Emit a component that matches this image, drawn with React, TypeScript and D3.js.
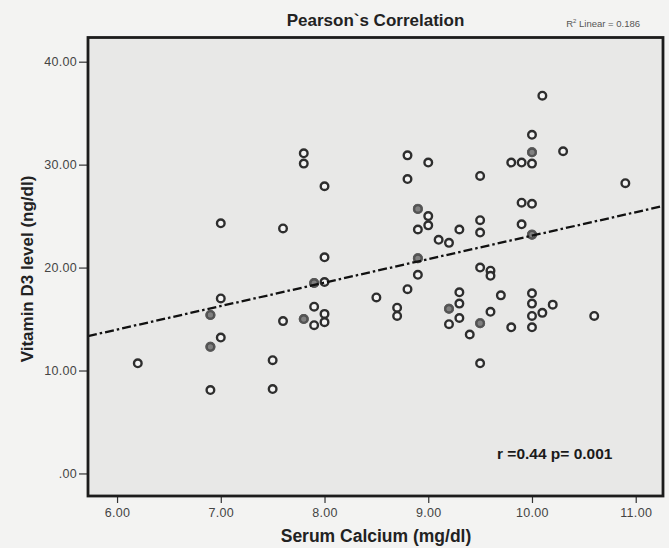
import { useRef, useEffect } from 'react'
import * as d3 from 'd3'

const W = 669
const H = 548
const FRAME = { left: 88, right: 663, top: 37.5, bottom: 496 }

// Serum calcium (mg/dl) vs vitamin D3 (ng/dl)
const CALCIUM = [
  7.8, 7.8, 8.0, 7.0, 7.6, 8.0, 7.9, 8.0, 7.0, 8.5,
  10.1, 10.0, 10.0, 10.3, 8.8, 9.0, 9.8, 9.9, 10.0, 8.8,
  9.5, 10.9, 9.9, 10.0, 8.9, 9.0, 9.0, 8.9, 9.3, 9.5,
  9.5, 9.9, 10.0, 9.1, 9.2, 8.9, 8.9, 9.5, 9.6, 9.6,
  8.8, 9.3, 9.7, 10.0, 6.9, 7.9, 8.0, 8.0, 7.9, 7.8,
  7.6, 7.0, 6.9, 6.2, 7.5, 6.9, 7.5, 8.7, 8.7, 9.3,
  9.2, 9.3, 9.2, 9.4, 9.5, 9.6, 9.8, 10.0, 10.0, 10.0,
  10.1, 10.2, 10.6, 9.5,
]
const VITAMIN_D3 = [
  31.1, 30.1, 27.9, 24.3, 23.8, 21.0, 18.5, 18.6, 17.0, 17.1,
  36.7, 32.9, 31.2, 31.3, 30.9, 30.2, 30.2, 30.2, 30.1, 28.6,
  28.9, 28.2, 26.3, 26.2, 25.7, 25.0, 24.1, 23.7, 23.7, 24.6,
  23.4, 24.2, 23.2, 22.7, 22.4, 20.9, 19.3, 20.0, 19.7, 19.2,
  17.9, 17.6, 17.3, 17.5, 15.4, 16.2, 15.5, 14.7, 14.4, 15.0,
  14.8, 13.2, 12.3, 10.7, 11.0, 8.1, 8.2, 16.1, 15.3, 16.5,
  16.0, 15.1, 14.5, 13.5, 14.6, 15.7, 14.2, 16.5, 15.3, 14.2,
  15.6, 16.4, 15.3, 10.7,
]

// cases that fall on top of another one (they print darker)
const COINCIDENT_CALCIUM = [7.9, 10.0, 8.9, 10.0, 8.9, 6.9, 7.8, 6.9, 9.2, 9.5]
const COINCIDENT_D3 = [18.5, 31.2, 25.7, 23.2, 20.9, 15.4, 15.0, 12.3, 16.0, 14.6]

// fit line as drawn (R² linear = 0.186)
const FIT_INTERCEPT = 0.3
const FIT_SLOPE = 2.28

const X_TICKS = [6, 7, 8, 9, 10, 11]
const X_TICK_LABELS = ['6.00', '7.00', '8.00', '9.00', '10.00', '11.00']
const Y_TICKS = [0, 10, 20, 30, 40]
const Y_TICK_LABELS = ['.00', '10.00', '20.00', '30.00', '40.00']

const FONT = 'Arial, "Liberation Sans", sans-serif'

export default function App() {
  const svgRef = useRef<SVGSVGElement>(null)

  useEffect(() => {
    if (!svgRef.current) return
    const svg = d3.select(svgRef.current)
    svg.selectAll('*').remove()

    const x = d3.scaleLinear().domain([5.72, 11.263]).range([FRAME.left, FRAME.right])
    const y = d3.scaleLinear().domain([-2.19, 42.35]).range([FRAME.bottom, FRAME.top])

    svg.append('rect').attr('width', W).attr('height', H).attr('fill', '#f3f3f2')

    // plot area
    svg.append('rect')
      .attr('x', FRAME.left).attr('y', FRAME.top)
      .attr('width', FRAME.right - FRAME.left).attr('height', FRAME.bottom - FRAME.top)
      .attr('fill', '#e8e8e7')

    // Y axis
    svg.append('g')
      .attr('transform', `translate(${FRAME.left},0)`)
      .call(d3.axisLeft(y).tickValues(Y_TICKS).tickSize(9).tickPadding(2)
        .tickFormat((_, i) => Y_TICK_LABELS[i]))
      .call((g) => {
        g.select('.domain').remove()
        g.selectAll('.tick line').attr('stroke', '#333').attr('stroke-width', 1.2)
        g.selectAll('text').attr('fill', '#444').attr('font-size', '12.5px')
          .attr('font-family', FONT).attr('letter-spacing', '0.3px')
      })

    // X axis
    svg.append('g')
      .attr('transform', `translate(0,${FRAME.bottom})`)
      .call(d3.axisBottom(x).tickValues(X_TICKS).tickSize(7).tickPadding(5)
        .tickFormat((_, i) => X_TICK_LABELS[i]))
      .call((g) => {
        g.select('.domain').remove()
        g.selectAll('.tick line').attr('stroke', '#333').attr('stroke-width', 1.2)
        g.selectAll('text').attr('fill', '#444').attr('font-size', '12.5px')
          .attr('font-family', FONT).attr('letter-spacing', '0.3px')
      })

    // points
    svg.append('g')
      .selectAll('circle')
      .data(CALCIUM.map((c, i) => [c, VITAMIN_D3[i]]))
      .join('circle')
      .attr('cx', (d) => x(d[0]))
      .attr('cy', (d) => y(d[1]))
      .attr('r', 3.8)
      .attr('fill', '#f4f4f4')
      .attr('stroke', '#2e2e2e')
      .attr('stroke-width', 2.4)

    svg.append('g')
      .selectAll('circle')
      .data(COINCIDENT_CALCIUM.map((c, i) => [c, COINCIDENT_D3[i]]))
      .join('circle')
      .attr('cx', (d) => x(d[0]))
      .attr('cy', (d) => y(d[1]))
      .attr('r', 4.3)
      .attr('fill', '#5a5a5a')
      .attr('stroke', '#666')
      .attr('stroke-width', 1.5)
      .attr('opacity', 0.75)

    // fit line
    const xs = x.domain()
    svg.append('path')
      .datum(xs.map((v) => [v, FIT_INTERCEPT + FIT_SLOPE * v]))
      .attr('d', d3.line<number[]>().x((d) => x(d[0])).y((d) => y(d[1])))
      .attr('fill', 'none')
      .attr('stroke', '#111')
      .attr('stroke-width', 2.3)
      .attr('stroke-dasharray', '9,3,2.5,3')

    // frame
    svg.append('rect')
      .attr('x', FRAME.left).attr('y', FRAME.top)
      .attr('width', FRAME.right - FRAME.left).attr('height', FRAME.bottom - FRAME.top)
      .attr('fill', 'none').attr('stroke', '#1c1c1c').attr('stroke-width', 2.8)

    // texts
    svg.append('text')
      .attr('x', (FRAME.left + FRAME.right) / 2).attr('y', 26)
      .attr('text-anchor', 'middle').attr('font-family', FONT)
      .attr('font-weight', 'bold').attr('font-size', '17px').attr('fill', '#222')
      .text('Pearson`s Correlation')

    const r2 = svg.append('text')
      .attr('x', 640).attr('y', 27)
      .attr('text-anchor', 'end').attr('font-family', FONT)
      .attr('font-size', '9.5px').attr('fill', '#555')
    r2.append('tspan').text('R')
    r2.append('tspan').attr('dy', -4).attr('font-size', '6px').text('2')
    r2.append('tspan').attr('dy', 4).text(' Linear = 0.186')

    svg.append('text')
      .attr('x', 497).attr('y', 459)
      .attr('font-family', FONT).attr('font-weight', 'bold')
      .attr('font-size', '15.5px').attr('fill', '#1a1a1a')
      .text('r =0.44 p= 0.001')

    svg.append('text')
      .attr('x', 376).attr('y', 542)
      .attr('text-anchor', 'middle').attr('font-family', FONT)
      .attr('font-weight', 'bold').attr('font-size', '17.5px').attr('fill', '#222')
      .text('Serum Calcium (mg/dl)')

    svg.append('text')
      .attr('transform', `translate(33,269) rotate(-90)`)
      .attr('text-anchor', 'middle').attr('font-family', FONT)
      .attr('font-weight', 'bold').attr('font-size', '17px').attr('fill', '#222')
      .text('Vitamin D3 level (ng/dl)')
  }, [])

  return (
    <svg
      ref={svgRef}
      width={W}
      height={H}
      style={{ position: 'absolute', left: 0, top: 0, display: 'block' }}
    />
  )
}
